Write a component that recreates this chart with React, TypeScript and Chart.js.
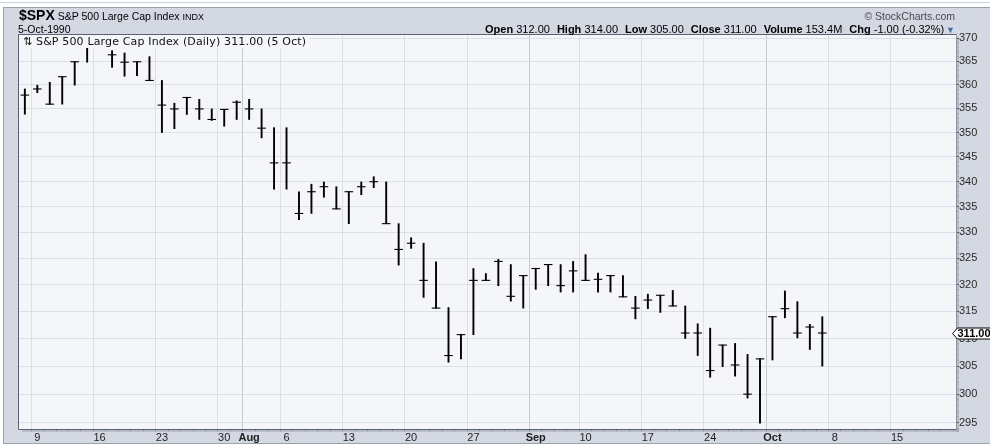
import { useEffect, useRef } from 'react';
import { Chart, registerables } from 'chart.js';

Chart.register(...registerables);

// ---- data (S&P 500, daily, Jul 6 – Oct 5 1990) ----
const dates: string[] = [
  'Jul 6', 'Jul 9', 'Jul 10', 'Jul 11', 'Jul 12', 'Jul 13', 'Jul 16', 'Jul 17', 'Jul 18', 'Jul 19', 'Jul 20',
  'Jul 23', 'Jul 24', 'Jul 25', 'Jul 26', 'Jul 27', 'Jul 30', 'Jul 31', 'Aug 1', 'Aug 2', 'Aug 3', 'Aug 6',
  'Aug 7', 'Aug 8', 'Aug 9', 'Aug 10', 'Aug 13', 'Aug 14', 'Aug 15', 'Aug 16', 'Aug 17', 'Aug 20', 'Aug 21',
  'Aug 22', 'Aug 23', 'Aug 24', 'Aug 27', 'Aug 28', 'Aug 29', 'Aug 30', 'Aug 31', 'Sep 4', 'Sep 5', 'Sep 6',
  'Sep 7', 'Sep 10', 'Sep 11', 'Sep 12', 'Sep 13', 'Sep 14', 'Sep 17', 'Sep 18', 'Sep 19', 'Sep 20', 'Sep 21',
  'Sep 24', 'Sep 25', 'Sep 26', 'Sep 27', 'Sep 28', 'Oct 1', 'Oct 2', 'Oct 3', 'Oct 4', 'Oct 5',
];
const highs: number[] = [
  359.1, 359.9, 360.5, 361.7, 364.9, 368.3, 369.5, 367.3, 366.8, 364.9, 366.0,
  360.9, 356.1, 357.3, 356.9, 354.9, 354.8, 356.6, 356.9, 354.9, 351.0, 351.0,
  338.0, 339.5, 339.95, 339.0, 338.0, 339.95, 341.0, 339.95, 331.7, 328.95, 327.9,
  324.3, 315.7, 310.7, 323.05, 322.1, 324.8, 323.8, 321.7, 323.05, 323.8, 323.8,
  324.4, 325.7, 322.2, 321.7, 321.7, 317.8, 318.2, 318.0, 318.9, 316.0, 312.7,
  311.9, 308.8, 309.1, 307.1, 306.3, 314.0, 318.8, 316.8, 312.6, 314.0,
];
const lows: number[] = [
  353.8, 358.3, 355.9, 355.9, 359.9, 364.8, 368.3, 363.7, 361.8, 361.9, 360.9,
  350.0, 350.8, 353.75, 352.7, 352.5, 351.3, 352.7, 352.7, 348.9, 338.5, 338.5,
  332.5, 333.7, 336.9, 334.6, 331.7, 337.4, 338.8, 331.7, 323.7, 326.9, 317.6,
  315.6, 305.7, 306.3, 310.7, 320.8, 319.8, 316.9, 315.6, 319.1, 319.8, 318.6,
  318.6, 320.8, 318.6, 318.6, 317.7, 313.6, 315.5, 314.8, 316.0, 310.0, 306.9,
  303.0, 304.9, 303.2, 299.3, 294.9, 306.1, 313.8, 310.1, 308.0, 305.0,
];
const closes: number[] = [
  357.8, 359.1, 355.9, 361.7, 364.9, 368.0, 368.9, 366.4, 364.8, 364.9, 360.9,
  355.7, 354.9, 357.3, 354.9, 352.7, 354.8, 356.3, 354.9, 350.9, 343.8, 343.8,
  333.7, 338.0, 339.0, 334.6, 338.0, 339.0, 340.0, 331.7, 326.7, 327.9, 320.8,
  315.6, 306.9, 310.7, 320.8, 320.8, 324.4, 317.8, 321.7, 323.05, 323.8, 319.8,
  322.6, 320.8, 321.0, 321.7, 317.7, 315.6, 317.1, 318.0, 316.0, 311.0, 311.0,
  304.2, 308.8, 305.2, 300.0, 306.3, 314.0, 315.5, 311.0, 312.1, 311.0,
];
const futureDates: string[] = ['Oct 8', 'Oct 9', 'Oct 10', 'Oct 11', 'Oct 12', 'Oct 15', 'Oct 16', 'Oct 17', 'Oct 18', 'Oct 19'];
const tickDates: string[] = ['Jul 9', 'Jul 16', 'Jul 23', 'Jul 30', 'Aug 1', 'Aug 6', 'Aug 13', 'Aug 20', 'Aug 27', 'Sep 4', 'Sep 10', 'Sep 17', 'Sep 24', 'Oct 1', 'Oct 8', 'Oct 15'];
const tickLabels: string[] = ['9', '16', '23', '30', 'Aug', '6', '13', '20', '27', 'Sep', '10', '17', '24', 'Oct', '8', '15'];
const monthLabels: string[] = ['Aug', 'Sep', 'Oct'];
const yMin = 293.9;
const yMax = 370.7;
const yLabelStep = 5;

const statLabels: string[] = ['Open', 'High', 'Low', 'Close', 'Volume', 'Chg'];
const statValues: string[] = ['312.00', '314.00', '305.00', '311.00', '153.4M', '-1.00 (-0.32%)'];

const AXIS_FONT = '"Liberation Sans", Arial, Helvetica, sans-serif';

export default function App() {
  const ref = useRef<HTMLCanvasElement>(null);

  useEffect(() => {
    document.body.style.margin = '0';
    const canvas = ref.current;
    if (!canvas) return;
    const allDates = [...dates, ...futureDates];
    const labelAt = new Map<number, string>();
    tickDates.forEach((d, k) => labelAt.set(allDates.indexOf(d), tickLabels[k]));

    const framePlugin = {
      id: 'frame',
      beforeDraw(chart: any) {
        const { ctx, chartArea: a } = chart;
        ctx.save();
        ctx.fillStyle = 'rgba(110,118,135,0.28)';
        ctx.fillRect(a.left + 3, a.bottom, a.right - a.left, 3);
        ctx.fillRect(a.right, a.top + 3, 3, a.bottom - a.top);
        ctx.fillStyle = '#F5F6FA';
        ctx.fillRect(a.left, a.top, a.right - a.left, a.bottom - a.top);
        ctx.restore();
      },
      afterDraw(chart: any) {
        const { ctx, chartArea: a } = chart;
        ctx.save();
        ctx.lineWidth = 1;
        ctx.strokeStyle = '#5E616B';
        ctx.beginPath();
        ctx.moveTo(Math.round(a.left) - 0.5, Math.round(a.bottom) + 0.5);
        ctx.lineTo(Math.round(a.left) - 0.5, Math.round(a.top) - 0.5);
        ctx.lineTo(Math.round(a.right) + 0.5, Math.round(a.top) - 0.5);
        ctx.moveTo(Math.round(a.left) - 0.5, Math.round(a.bottom) + 0.5);
        ctx.lineTo(Math.round(a.right) + 0.5, Math.round(a.bottom) + 0.5);
        ctx.stroke();
        ctx.strokeStyle = '#8E929B';
        ctx.beginPath();
        ctx.moveTo(Math.round(a.right) + 0.5, Math.round(a.top) - 0.5);
        ctx.lineTo(Math.round(a.right) + 0.5, Math.round(a.bottom) + 0.5);
        ctx.stroke();

        // last price marker on the right axis
        const last = closes[closes.length - 1];
        const y = Math.round(chart.scales.y.getPixelForValue(last)) + 0.5;
        const x0 = Math.round(a.right) - 3.5;
        ctx.beginPath();
        ctx.moveTo(x0, y);
        ctx.lineTo(x0 + 5, y - 5.5);
        ctx.lineTo(chart.width + 2, y - 5.5);
        ctx.lineTo(chart.width + 2, y + 5.5);
        ctx.lineTo(x0 + 5, y + 5.5);
        ctx.closePath();
        ctx.fillStyle = '#FFFFFF';
        ctx.fill();
        ctx.strokeStyle = '#000';
        ctx.stroke();
        ctx.fillStyle = '#000';
        ctx.font = 'bold 11px ' + AXIS_FONT;
        ctx.textBaseline = 'middle';
        ctx.textAlign = 'left';
        ctx.fillText(last.toFixed(2), x0 + 5, y + 0.5);
        ctx.restore();
      },
    };

    const isMonth = (v: number) => monthLabels.includes(labelAt.get(v) ?? '');

    const chart = new Chart(canvas, {
      type: 'bar',
      data: {
        datasets: [
          {
            type: 'bar',
            data: dates.map((_, i) => ({ x: i, y: [lows[i], highs[i]] })) as any,
            backgroundColor: '#000',
            borderWidth: 0,
            barThickness: 1.25,
            grouped: false,
          } as any,
          {
            type: 'scatter',
            data: dates.map((_, i) => ({ x: i, y: closes[i] })),
            pointStyle: 'line',
            pointRadius: 4.3,
            pointHoverRadius: 4.3,
            pointBorderColor: '#000',
            pointBackgroundColor: '#000',
            pointBorderWidth: 1.1,
            showLine: false,
          } as any,
        ],
      },
      options: {
        animation: false,
        responsive: false,
        events: [],
        layout: { padding: { left: 19, top: 35, right: 0, bottom: 0 } },
        plugins: { legend: { display: false }, tooltip: { enabled: false }, title: { display: false } },
        scales: {
          x: {
            type: 'linear',
            min: -0.47,
            max: 74.73,
            offset: false,
            afterBuildTicks: (s: any) => {
              s.ticks = allDates.map((_, i) => ({ value: i }));
            },
            afterFit: (s: any) => {
              s.height = 18;
            },
            ticks: {
              autoSkip: false,
              maxRotation: 0,
              padding: 0,
              color: '#1E1E1E',
              font: (c: any) => ({ family: AXIS_FONT, size: 11, weight: c.tick && isMonth(c.tick.value) ? 'bold' : 'normal' }),
              callback: (v: any) => labelAt.get(Number(v)) ?? '',
            },
            grid: {
              color: (c: any) => {
                if (!c.tick || !labelAt.has(c.tick.value)) return 'rgba(0,0,0,0)';
                return isMonth(c.tick.value) ? '#C5C8D1' : '#DDDFE6';
              },
              tickColor: '#7E828C',
              tickLength: 2,
              lineWidth: 1,
            },
            border: { display: false },
          },
          y: {
            type: 'logarithmic',
            position: 'right',
            min: yMin,
            max: yMax,
            afterBuildTicks: (s: any) => {
              const t: { value: number }[] = [];
              for (let v = Math.ceil(yMin); v <= Math.floor(yMax); v++) t.push({ value: v });
              s.ticks = t;
            },
            afterFit: (s: any) => {
              s.width = 34;
            },
            ticks: {
              autoSkip: false,
              padding: 0,
              color: '#2A2A2A',
              font: { family: AXIS_FONT, size: 11 },
              callback: (v: any) => (Number(v) % yLabelStep === 0 ? String(v) : ''),
            },
            grid: {
              color: (c: any) => (c.tick && c.tick.value % yLabelStep === 0 ? '#DDDFE6' : 'rgba(0,0,0,0)'),
              tickColor: (c: any) => (c.tick && c.tick.value % yLabelStep === 0 ? '#555' : '#A3A6AE'),
              tickLength: 3,
              lineWidth: 1,
            },
            border: { display: false },
          },
        },
      } as any,
      plugins: [framePlugin],
    });
    return () => chart.destroy();
  }, []);

  const lastClose = closes[closes.length - 1];

  return (
    <div style={{ position: 'relative', width: 990, height: 447, overflow: 'hidden', background: '#fff', fontFamily: AXIS_FONT }}>
      <div style={{ position: 'absolute', left: 0, top: 2, width: 990, height: 1, background: '#C6D2DC' }} />
      <div
        style={{
          position: 'absolute', left: 3, top: 7, width: 992, height: 435, background: '#D3D8E2',
          borderTop: '1px solid #9CA1AB', borderLeft: '1px solid #9CA1AB', borderBottom: '1px solid #9CA1AB',
        }}
      />
      <canvas ref={ref} width={990} height={447} style={{ position: 'absolute', left: 0, top: 0, width: 990, height: 447 }} />
      <div style={{ position: 'absolute', left: 19, top: 7, lineHeight: '15px', whiteSpace: 'nowrap', color: '#000' }}>
        <span style={{ fontWeight: 'bold', fontSize: 14 }}>$SPX</span>
        <span style={{ fontSize: 10.5 }}> S&amp;P 500 Large Cap Index </span>
        <span style={{ fontSize: 9 }}>INDX</span>
      </div>
      <div style={{ position: 'absolute', left: 18, top: 23, fontSize: 10.5, lineHeight: '12px', color: '#000' }}>5-Oct-1990</div>
      <div style={{ position: 'absolute', right: 35, top: 10, fontSize: 10.5, lineHeight: '12px', color: '#4A4A4A', whiteSpace: 'nowrap' }}>
        © StockCharts.com
      </div>
      <div style={{ position: 'absolute', right: 35, top: 23, fontSize: 11, lineHeight: '12px', color: '#000', whiteSpace: 'nowrap' }}>
        {statLabels.map((l, i) => (
          <span key={l} style={{ marginLeft: i === 0 ? 0 : 7 }}>
            <b>{l}</b> {statValues[i]}
          </span>
        ))}
        <span style={{ color: '#4A6EA8', fontSize: 9, marginLeft: 2 }}>▼</span>
      </div>
      <div
        style={{
          position: 'absolute', left: 20, top: 36, height: 12, padding: '0 3px 0 3px', background: '#F5F6FA',
          fontFamily: '"DejaVu Sans", Verdana, sans-serif', fontSize: 11, lineHeight: '12px', color: '#111', whiteSpace: 'nowrap',
          letterSpacing: 0.15,
        }}
      >
        ⇅ S&amp;P 500 Large Cap Index (Daily) {lastClose.toFixed(2)} (5 Oct)
      </div>
    </div>
  );
}
